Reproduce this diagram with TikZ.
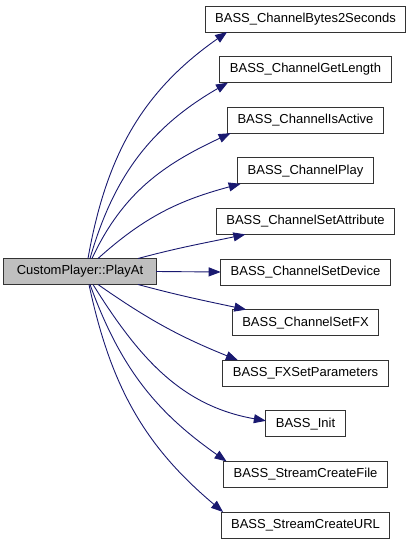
\documentclass[tikz,border=0pt]{standalone}
\usepackage{fontspec}
\setmainfont{Liberation Sans}
\usetikzlibrary{positioning,arrows.meta}
\definecolor{edgeblue}{RGB}{25,25,112}
\definecolor{fngray}{RGB}{191,191,191}

\begin{document}
\begin{tikzpicture}[
    x=1pt, y=1pt, font=\fontsize{13}{15}\selectfont,
    node distance=24.6pt,
    fn/.style={draw=black!80, line width=1pt, fill=white, inner xsep=10pt,
      minimum height=26pt, outer sep=0pt},
    call/.style={draw=edgeblue, line width=0.9pt,
      -{Triangle[length=12pt,width=9pt]}}]
  \useasboundingbox (0,0) rectangle (413,-544);
  % caller
  \node[fn, fill=fngray, inner xsep=13pt] (main) at (80,-271.5) {CustomPlayer::PlayAt};
  % callees
  \node[fn] (b2s) at (305.5,-19) {BASS\_ChannelBytes2Seconds};
  \node[fn, below=of b2s] (len) {BASS\_ChannelGetLength};
  \node[fn, below=of len] (act) {BASS\_ChannelIsActive};
  \node[fn, below=of act] (play) {BASS\_ChannelPlay};
  \node[fn, below=of play] (attr) {BASS\_ChannelSetAttribute};
  \node[fn, below=of attr] (dev) {BASS\_ChannelSetDevice};
  \node[fn, below=of dev] (fx) {BASS\_ChannelSetFX};
  \node[fn, below=of fx] (fxpar) {BASS\_FXSetParameters};
  \node[fn, below=of fxpar] (init) {BASS\_Init};
  \node[fn, below=of init] (file) {BASS\_StreamCreateFile};
  \node[fn, below=of file] (url) {BASS\_StreamCreateURL};
  % calls
  \draw[call] ([xshift=8pt]main.north) to[out=80,in=215] ([xshift=22pt]b2s.south west);
  \draw[call] ([xshift=10pt]main.north) to[out=74,in=210] ([xshift=8pt]len.south west);
  \draw[call] ([xshift=12pt]main.north) to[out=65,in=205] ([xshift=3pt]act.south west);
  \draw[call] ([xshift=18pt]main.north) to[out=42,in=195] ([xshift=3pt]play.south west);
  \draw[call] ([xshift=58pt]main.north) to[out=15,in=192] ([xshift=29pt]attr.south west);
  \draw[call] (main.east) -- (dev.west);
  \draw[call] ([xshift=58pt]main.south) to[out=-15,in=168] ([xshift=14pt]fx.north west);
  \draw[call] ([xshift=18pt]main.south) to[out=-35,in=158] ([xshift=15pt]fxpar.north west);
  \draw[call] ([xshift=13pt]main.south) to[out=-58,in=170] ([yshift=3pt]init.west);
  \draw[call] ([xshift=10pt]main.south) to[out=-70,in=145] ([xshift=3pt]file.north west);
  \draw[call] ([xshift=9pt]main.south) to[out=-78,in=140] ([xshift=2pt]url.north west);
\end{tikzpicture}
\end{document}
